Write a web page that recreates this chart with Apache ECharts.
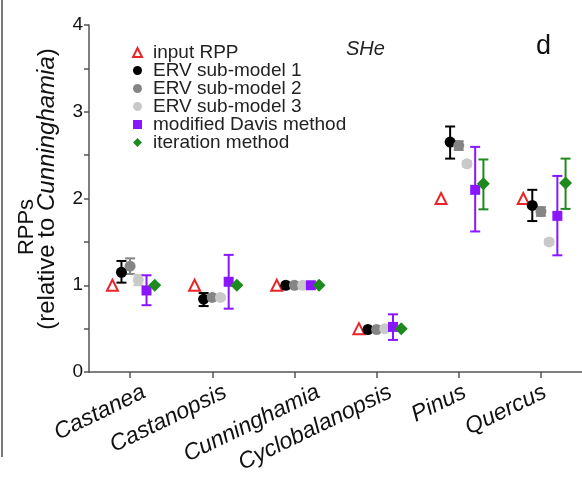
<!DOCTYPE html>
<html><head><meta charset="utf-8">
<script src="https://cdn.jsdelivr.net/npm/echarts@6/dist/echarts.min.js"></script>
<style>html,body{margin:0;padding:0;background:#fff}#c{width:582px;height:485px}</style>
</head><body><div id="c"></div>
<script>
const categories = ['Castanea','Castanopsis','Cunninghamia','Cyclobalanopsis','Pinus','Quercus'];
const yTickValues = [0, 1, 2, 3, 4];

const inputRPP = [1.0, 1.0, 1.0, 0.5, 2.0, 2.0];
const erv1 = [1.15, 0.84, 1.0, 0.49, 2.65, 1.92];
const erv1Low = [1.03, 0.76, null, null, 2.46, 1.74];
const erv1High = [1.28, 0.91, null, null, 2.83, 2.10];
const erv2 = [1.22, 0.86, 1.0, 0.49, 2.61, 1.85];
const erv2Low = [1.13, 0.83, null, null, 2.56, 1.80];
const erv2High = [1.31, 0.89, null, null, 2.66, 1.90];
const erv3 = [1.06, 0.86, 1.0, 0.50, 2.40, 1.50];
const erv3Low = [1.00, 0.84, null, null, 2.37, 1.47];
const erv3High = [1.12, 0.88, null, null, 2.43, 1.53];
const davis = [0.94, 1.04, 1.0, 0.52, 2.10, 1.80];
const davisLow = [0.77, 0.73, null, 0.37, 1.62, 1.345];
const davisHigh = [1.115, 1.35, null, 0.665, 2.595, 2.26];
const iter = [1.0, 1.0, 1.0, 0.5, 2.17, 2.18];
const iterLow = [null, null, null, null, 1.875, 1.88];
const iterHigh = [null, null, null, null, 2.45, 2.46];

// layout/style (not data)
const FONT = 'Liberation Sans, Arial, sans-serif';
const LABEL_ROT = 26;
const labelShiftX = [14, 13, 24, 14, 6, 4]; // horizontal px shift of each category label
const seriesDefs = [
  {name:'input RPP', vals:inputRPP, low:null, high:null, off:-0.215, symbol:'triangle', size:11, color:'#ffffff', border:'#e8262a', bw:2},
  {name:'ERV sub-model 1', vals:erv1, low:erv1Low, high:erv1High, off:-0.105, symbol:'circle', size:11, color:'#000000', ebColor:'#000000'},
  {name:'ERV sub-model 2', vals:erv2, low:erv2Low, high:erv2High, off:0, symbol:'circle', size:11, color:'#858585', ebColor:'#858585'},
  {name:'ERV sub-model 3', vals:erv3, low:erv3Low, high:erv3High, off:0.1, symbol:'circle', size:11, color:'#c9c9c9', ebColor:'#c9c9c9'},
  {name:'modified Davis method', vals:davis, low:davisLow, high:davisHigh, off:0.2, symbol:'rect', size:10, color:'#8a16ff', ebColor:'#8a16ff'},
  {name:'iteration method', vals:iter, low:iterLow, high:iterHigh, off:0.3, symbol:'diamond', size:13, color:'#1e8a1e', ebColor:'#1e8a1e'}
];

const series = [];
seriesDefs.forEach(function(d){
  if (d.low) {
    const ebData = [];
    d.vals.forEach(function(v,i){
      if (d.low[i] != null) ebData.push([i + d.off, d.low[i], d.high[i]]);
    });
    series.push({
      type:'custom', name:d.name + ' err', xAxisIndex:1, yAxisIndex:0, z:2,
      data: ebData,
      renderItem: function(params, api){
        const x = api.value(0);
        const p1 = api.coord([x, api.value(1)]);
        const p2 = api.coord([x, api.value(2)]);
        const cw = 5;
        const st = {stroke:d.ebColor, lineWidth:2};
        return {type:'group', children:[
          {type:'line', shape:{x1:p1[0],y1:p1[1],x2:p2[0],y2:p2[1]}, style:st},
          {type:'line', shape:{x1:p1[0]-cw,y1:p1[1],x2:p1[0]+cw,y2:p1[1]}, style:st},
          {type:'line', shape:{x1:p2[0]-cw,y1:p2[1],x2:p2[0]+cw,y2:p2[1]}, style:st}
        ]};
      }
    });
  }
});
seriesDefs.forEach(function(d){
  series.push({
    type:'scatter', name:d.name, xAxisIndex:1, yAxisIndex:0, z:5,
    symbol:d.symbol, symbolSize:d.size,
    itemStyle:{color:d.color, borderColor:d.border || d.color, borderWidth:d.bw || 0, opacity:1},
    data: d.vals.map(function(v,i){ return [i + d.off, v]; })
  });
});

// rich styles shifting each rotated label horizontally
const rad = LABEL_ROT * Math.PI / 180;
const labelRich = {};
labelShiftX.forEach(function(dx, i){
  labelRich['c' + i] = {
    fontFamily:FONT, fontStyle:'italic', fontSize:23, color:'#111',
    padding:[2 * dx * Math.sin(rad), -dx * Math.cos(rad), 0, 0]
  };
});

const chart = echarts.init(document.getElementById('c'), null, {renderer:'canvas'});
chart.setOption({
  animation:false,
  textStyle:{fontFamily:FONT},
  grid:{left:89, top:25, width:494, height:347, containLabel:false},
  title:[
    {text:'SHe', left:341, top:34, textStyle:{fontFamily:FONT, fontStyle:'italic', fontWeight:'normal', fontSize:20, color:'#222'}},
    {text:'d', left:531, top:28, textStyle:{fontFamily:FONT, fontWeight:'normal', fontSize:27, color:'#111'}}
  ],
  legend:{
    orient:'vertical', left:127, top:38, itemGap:-1, itemWidth:9, itemHeight:9,
    data: seriesDefs.map(function(d){return d.name;}),
    textStyle:{fontFamily:FONT, fontSize:19, color:'#222', padding:[0,0,0,6]}
  },
  xAxis:[
    {type:'category', data:categories, boundaryGap:true, position:'bottom',
     axisLine:{onZero:false, lineStyle:{color:'#555', width:1.5}},
     axisTick:{show:true, alignWithLabel:true, length:6, lineStyle:{color:'#555', width:1.5}},
     axisLabel:{rotate:LABEL_ROT, interval:0, fontFamily:FONT, fontStyle:'italic', fontSize:23, color:'#111', margin:19,
       formatter:function(v, idx){ return '{c' + idx + '|' + v + '}'; }, rich:labelRich},
     splitLine:{show:false}},
    {type:'value', min:-0.5, max:5.5, show:false, splitLine:{show:false}}
  ],
  yAxis:[{
    type:'value', min:0, max:4, interval:1,
    name:'{a|RPPs}\n{b|(relative to }{i|Cunninghamia}{c|)}', nameLocation:'middle', nameRotate:90, nameGap:32,
    nameTextStyle:{fontFamily:FONT, fontSize:24, color:'#111', lineHeight:20, align:'center',
      rich:{
        a:{fontFamily:FONT, fontSize:22, lineHeight:20, color:'#111', padding:[0,57,0,0]},
        b:{fontFamily:FONT, fontSize:24, lineHeight:20, color:'#111', padding:[0,0,0,19]},
        i:{fontFamily:FONT, fontStyle:'italic', fontSize:24, lineHeight:20, color:'#111'},
        c:{fontFamily:FONT, fontSize:24, lineHeight:20, color:'#111'}
      }},
    axisLine:{show:true, onZero:false, lineStyle:{color:'#555', width:1.5}},
    axisTick:{show:true, inside:false, length:5, lineStyle:{color:'#555', width:1.5}},
    minorTick:{show:true, splitNumber:2, length:5, lineStyle:{color:'#555', width:1.5}},
    axisLabel:{fontFamily:FONT, fontSize:19, color:'#111', margin:6, formatter:function(v){return yTickValues.indexOf(v) >= 0 ? String(v) : '';}},
    splitLine:{show:false}
  }],
  graphic:[{type:'line', shape:{x1:2, y1:0, x2:2, y2:457}, style:{stroke:'#777', lineWidth:2}}],
  series: series
});
</script></body></html>
